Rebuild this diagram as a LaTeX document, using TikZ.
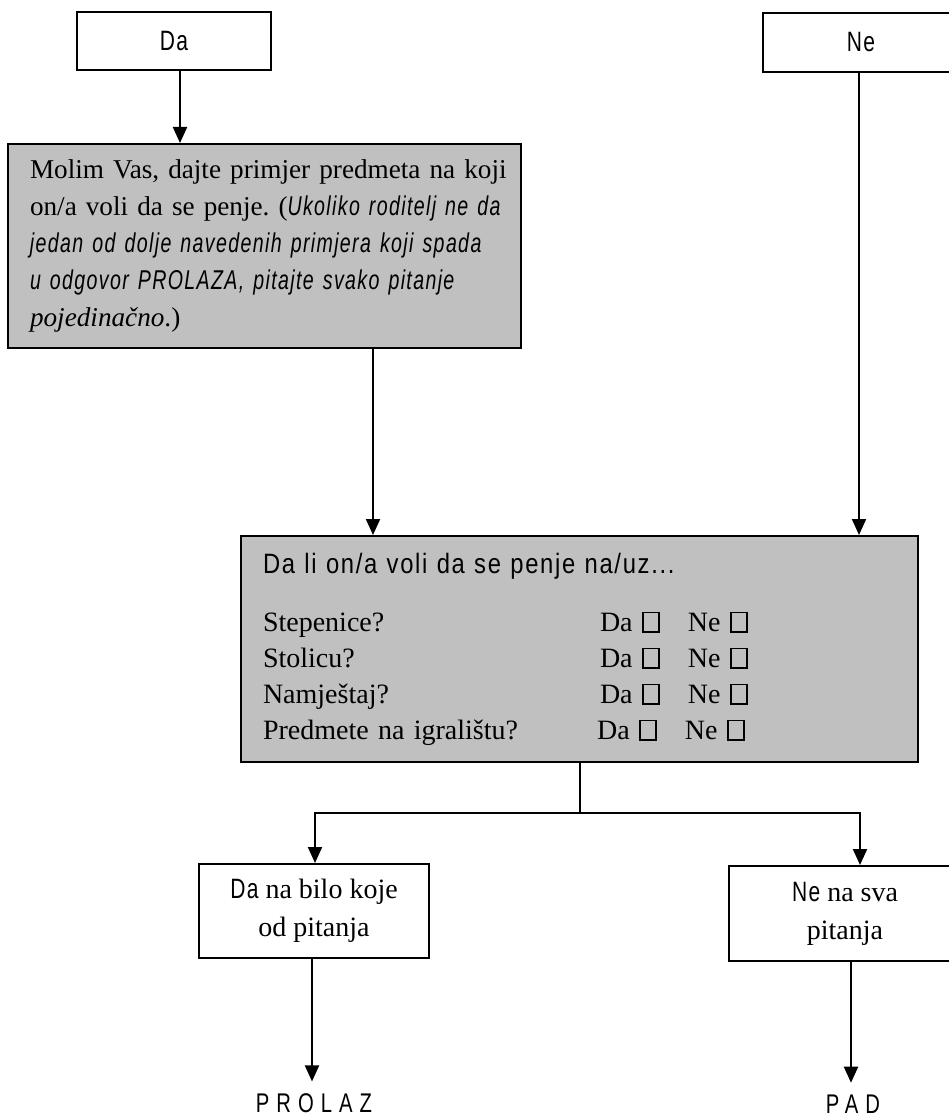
\documentclass[tikz,border=0pt]{standalone}
\usepackage{fontspec}
\setmainfont{Liberation Serif}
\newfontfamily\narrowsans[FakeStretch=0.75,LetterSpace=5]{Liberation Sans}
\newfontfamily\narrowital[FakeStretch=0.72,LetterSpace=5]{Liberation Sans}
\newfontfamily\titlesans[FakeStretch=0.85,LetterSpace=6]{Liberation Sans}
\usepackage{xcolor}
\usetikzlibrary{arrows.meta}
\definecolor{boxgray}{RGB}{192,192,192}
\newcommand{\kvadrat}{{\setlength{\fboxsep}{0pt}\setlength{\fboxrule}{0.8pt}\framebox[9pt]{\rule{0pt}{9pt}}}}
\frenchspacing
\tikzset{
whiteBox/.style={draw, line width=1pt, fill=white, inner sep=0pt, align=center,
    font=\fontsize{14}{19}\selectfont},
grayBox/.style={draw, line width=1pt, fill=boxgray, inner sep=0pt, align=left,
    font=\fontsize{14}{18.5}\selectfont},
arrowMe/.style={line width=1pt, -{Triangle[length=8pt,width=7pt]}},
endText/.style={font=\fontsize{13.5}{13.5}\selectfont\narrowsans\addfontfeature{LetterSpace=26},
    inner sep=0pt, outer sep=6pt}
}

\begin{document}
\begin{tikzpicture}[x=0.5pt,y=-0.5pt]
    \useasboundingbox (0,0) rectangle (948,1117);

    \node[whiteBox, minimum width=97pt, minimum height=29pt] (da) at (174,41) {\narrowsans Da};
    \node[whiteBox, minimum width=98pt, minimum height=29.5pt] (ne) at (861,42.5) {\narrowsans Ne};

    \node[grayBox, minimum width=256.5pt, minimum height=102pt, text width=234.5pt,
          font=\fontsize{13.6}{18.5}\selectfont] (pitanje) at (264.5,246)
        {\mbox{Molim Vas, dajte primjer predmeta na koji}\\
         \mbox{on/a voli da se penje. ({\narrowital\itshape Ukoliko roditelj ne da}}\\
         \mbox{\narrowital\itshape jedan od dolje navedenih primjera koji spada}\\
         \mbox{\narrowital\itshape u odgovor PROLAZA, pitajte svako pitanje}\\
         \mbox{\textit{pojedinačno}.)}};

    \node[grayBox, minimum width=338.5pt, minimum height=113pt, text width=316.5pt, font=\fontsize{14}{18}\selectfont] (penje) at (579.5,649)
        {{\titlesans Da li on/a voli da se penje na/uz...}\\[11pt]
         \makebox[168.5pt][l]{Stepenice?}Da \kvadrat\quad Ne \kvadrat\\
         \makebox[168.5pt][l]{Stolicu?}Da \kvadrat\quad Ne \kvadrat\\
         \makebox[168.5pt][l]{Namještaj?}Da \kvadrat\quad Ne \kvadrat\\
         \makebox[167pt][l]{Predmete na igralištu?}Da \kvadrat\quad Ne \kvadrat};

    \node[whiteBox, minimum width=115pt, minimum height=47pt] (daBilo) at (314,911)
        {{\narrowsans Da} na bilo koje\\od pitanja};
    \node[whiteBox, minimum width=116pt, minimum height=47.5pt] (neSva) at (845,913.5)
        {{\narrowsans Ne} na sva\\pitanja};

    \node[endText] (prolaz) at (314,1103) {PROLAZ};
    \node[endText] (pad) at (853,1104) {PAD};

    % stupci za strelice
    \coordinate (kDa) at (180,0);
    \coordinate (kNe) at (859,0);
    \coordinate (kSredina) at (373,0);
    \coordinate (kRaskrsce) at (580,813);
    \coordinate (kLijevo) at (315,813);
    \coordinate (kDesno) at (860,813);

    \draw[arrowMe] (da.south -| kDa) -- (pitanje.north -| kDa);
    \draw[arrowMe] (ne.south -| kNe) -- (penje.north -| kNe);
    \draw[arrowMe] (pitanje.south -| kSredina) -- (penje.north -| kSredina);
    \draw[line width=1pt] (penje.south -| kRaskrsce) -- (kRaskrsce);
    \draw[arrowMe] (kRaskrsce) -- (kLijevo) -- (daBilo.north -| kLijevo);
    \draw[arrowMe] (kRaskrsce) -- (kDesno) -- (neSva.north -| kDesno);
    \draw[arrowMe] ([xshift=-1pt]daBilo.south) -- ([xshift=-1pt]prolaz.north);
    \draw[arrowMe] ([xshift=3pt]neSva.south) -- ([xshift=-1pt]pad.north);
\end{tikzpicture}
\end{document}
